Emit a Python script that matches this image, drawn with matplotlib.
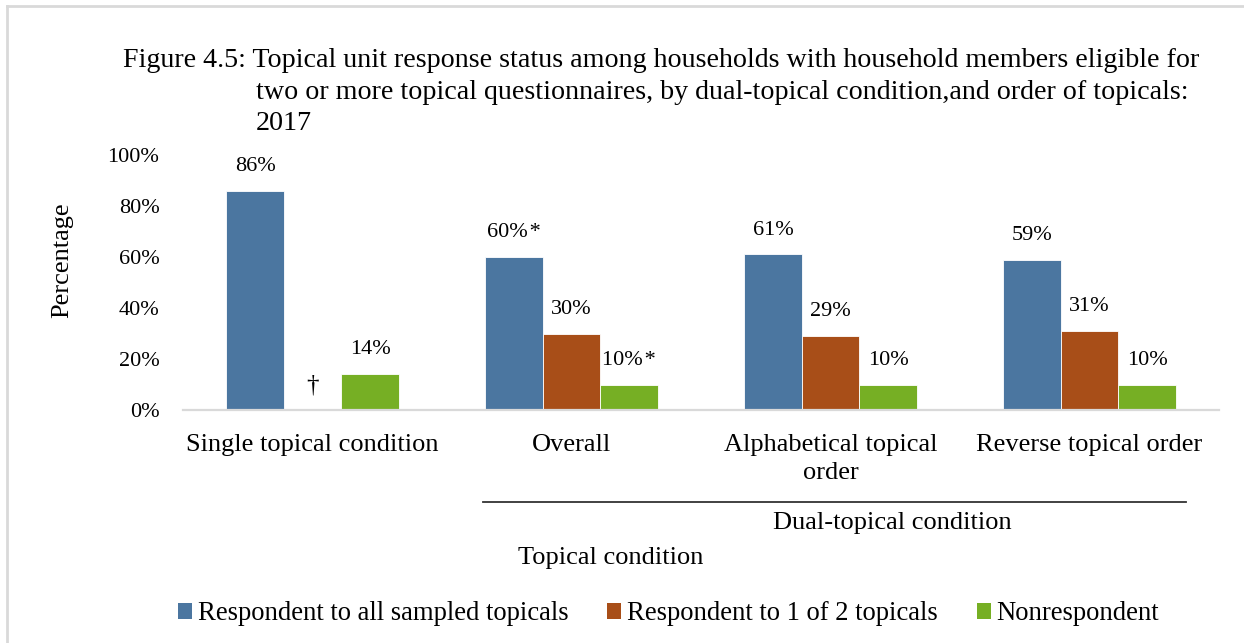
import matplotlib
matplotlib.use("Agg")
import matplotlib.pyplot as plt
from matplotlib.patches import Patch
from matplotlib.lines import Line2D
import numpy as np

plt.rcParams['font.family'] = ['Liberation Serif', 'DejaVu Serif']

categories = ["Single topical condition", "Overall", "Alphabetical topical\norder", "Reverse topical order"]
series_names = ["Respondent to all sampled topicals", "Respondent to 1 of 2 topicals", "Nonrespondent"]
all_topicals = [86, 60, 61, 59]
one_of_two = [0, 30, 29, 31]
nonrespondent = [14, 10, 10, 10]
labels_all = ["86%", "60%\u200a*", "61%", "59%"]
labels_one = ["†", "30%", "29%", "31%"]
labels_non = ["14%", "10%\u200a*", "10%", "10%"]
yticks = [0, 20, 40, 60, 80, 100]
ytick_labels = ["0%", "20%", "40%", "60%", "80%", "100%"]

colors = ["#4B76A0", "#A84E18", "#76AF24"]

W, H = 1244, 643
fig = plt.figure(figsize=(W / 100, H / 100), dpi=100)

def fx(px):
    return px / W

def fy(py):
    return (H - py) / H

ax = fig.add_axes([fx(183), fy(410), fx(1219) - fx(183), fy(155) - fy(410)])

x = np.arange(len(categories))
bw = 0.222
series = [all_topicals, one_of_two, nonrespondent]
labels = [labels_all, labels_one, labels_non]
for i, (vals, labs, c) in enumerate(zip(series, labels, colors)):
    pos = x + (i - 1) * bw
    ax.bar(pos, vals, width=bw, color=c, edgecolor="white", linewidth=0.6, zorder=2)
    for xp, v, lab in zip(pos, vals, labs):
        fs = 18 if lab == "†" else 16
        ax.annotate(lab, (xp, v), xytext=(0, 17.5), textcoords="offset points",
                    ha="center", va="center", fontsize=fs, color="black")

ax.set_xlim(-0.5, len(categories) - 0.5)
ax.set_ylim(0, 100)
ax.set_yticks(yticks)
ax.set_yticklabels(ytick_labels, fontsize=16)
ax.set_xticks(x)
ax.set_xticklabels(categories, fontsize=19, linespacing=1.33)
ax.tick_params(axis="y", length=0, pad=17)
ax.tick_params(axis="x", length=0, pad=17.5)
for s in ["left", "right", "top"]:
    ax.spines[s].set_visible(False)
ax.spines["bottom"].set_color("#D9D9D9")
ax.spines["bottom"].set_linewidth(1.6)

# Title lines
fig.text(fx(123), fy(67), "Figure 4.5: Topical unit response status among households with household members eligible for",
         fontsize=20.2, ha="left", va="baseline")
fig.text(fx(256), fy(99), "two or more topical questionnaires, by dual-topical condition,and order of topicals:",
         fontsize=20.2, ha="left", va="baseline")
fig.text(fx(256), fy(130), "2017", fontsize=20.2, ha="left", va="baseline")

# Y label
fig.text(fx(62), fy(260), "Percentage", rotation=90, fontsize=19, ha="center", va="center")

# Dual-topical bracket line and labels
fig.add_artist(Line2D([fx(483), fx(1186)], [fy(502), fy(502)], color="#333333", lw=1.3))
fig.text(fx(892), fy(523), "Dual-topical condition", fontsize=19, ha="center", va="center")
fig.text(fx(611), fy(558), "Topical condition", fontsize=19, ha="center", va="center")

# Border (left and top)
fig.add_artist(Line2D([fx(7), fx(7)], [fy(6), 0], color="#D9D9D9", lw=2))
fig.add_artist(Line2D([fx(7), 1], [fy(6), fy(6)], color="#D9D9D9", lw=2))

# Legend
handles = [Patch(facecolor=c, edgecolor="none") for c in colors]
fig.legend(handles, series_names, loc="center left", bbox_to_anchor=(fx(178), fy(614)),
           ncol=3, frameon=False, fontsize=19.2, handlelength=0.53, handleheight=0.53,
           handletextpad=0.22, columnspacing=1.45, borderpad=0, borderaxespad=0)

fig.savefig("out.png", dpi=100)
